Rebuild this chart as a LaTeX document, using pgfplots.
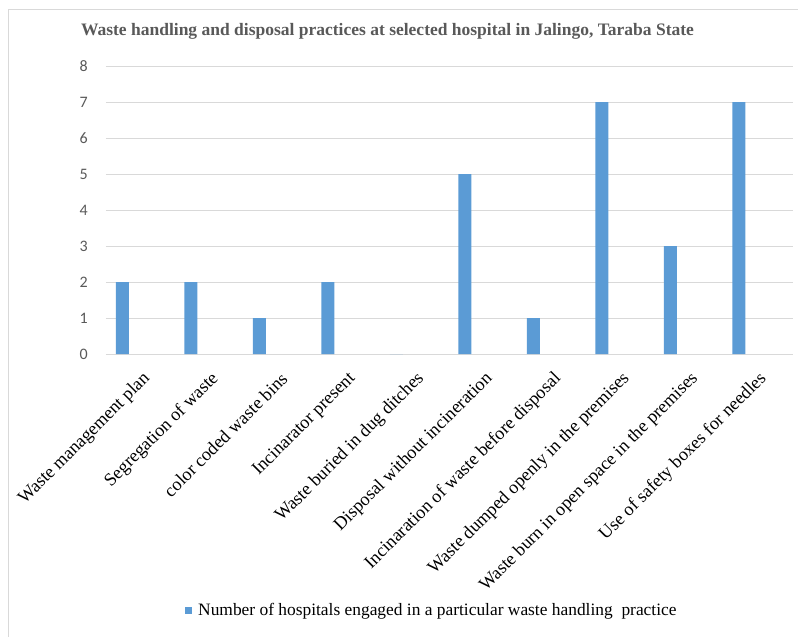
\documentclass[border=0pt]{standalone}
\usepackage{fontspec}
\setmainfont{Liberation Serif}
\newfontfamily\tickfont{Carlito}
\usepackage{pgfplots}
\pgfplotsset{compat=1.18}
\definecolor{barblue}{HTML}{5B9BD5}
\definecolor{gridgray}{HTML}{D9D9D9}
\definecolor{textgray}{HTML}{595959}

\begin{document}
\begin{tikzpicture}[x=1pt,y=1pt]
\path[use as bounding box] (0,0) rectangle (798,-637);
\draw[gridgray, line width=0.8pt] (8,-637) -- (8,-9) -- (798,-9);
\node[anchor=base, font=\bfseries\fontsize{17.5}{17.5}\selectfont, text=textgray] at (387.5,-35)
  {Waste handling and disposal practices at selected hospital in Jalingo, Taraba State};
\begin{axis}[
  at={(106pt,-354pt)}, anchor=south west,
  scale only axis, width=687pt, height=288pt,
  xmin=-0.24, xmax=9.79,
  ymin=0, ymax=8, ytick={0,...,8},
  axis line style={draw=none},
  major tick length=0pt,
  ymajorgrids, grid style={gridgray, line width=0.8pt},
  xtick={0,...,9},
  xticklabels={Waste management plan, Segregation of waste, color coded waste bins,
    Incinarator present, Waste buried in dug ditches, Disposal without incineration,
    Incinaration of waste before disposal, Waste dumped openly in the premises,
    Waste burn in open space in the premises, Use of safety boxes for needles},
  xticklabel style={font=\fontsize{18.2}{18.2}\selectfont, inner sep=0pt,
    xshift=25pt, yshift=-22pt, rotate=45, anchor=east},
  /pgf/number format/assume math mode=true,
  yticklabel style={font=\tickfont\fontsize{16}{16}\selectfont, text=textgray,
    inner sep=0pt, anchor=east, xshift=-18pt},
  ybar, bar width=13pt,
  legend style={at={(axis description cs:0.115,-0.889)}, anchor=west,
    draw=none, fill=none, inner sep=0pt, column sep=6pt,
    nodes={inner sep=0pt}, font=\fontsize{17.4}{17.4}\selectfont},
  legend image code/.code={\fill[barblue] (0pt,-3.5pt) rectangle (7pt,3.5pt);},
]
\addplot[fill=barblue, draw=none] coordinates {
  (0,2) (1,2) (2,1) (3,2) (4,0) (5,5) (6,1) (7,7) (8,3) (9,7)
};
\addlegendentry{Number of hospitals engaged in a particular waste handling\ \ practice}
\end{axis}
\end{tikzpicture}
\end{document}
